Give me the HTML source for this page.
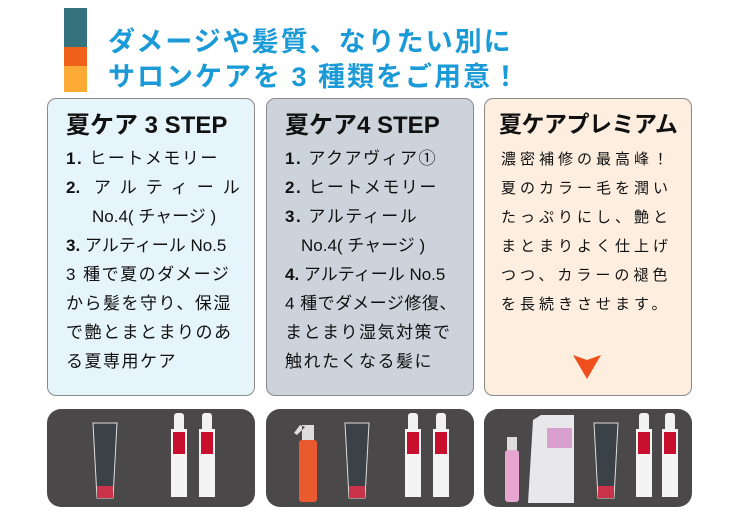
<!DOCTYPE html>
<html><head><meta charset="utf-8"><style>
body{margin:0;width:740px;height:532px;background:#fff;position:relative;overflow:hidden;font-family:"Liberation Sans","Noto Sans CJK JP",sans-serif;}
.a{position:absolute}
.h{color:#1a9ad6;font-weight:bold;font-size:27px;letter-spacing:2px;white-space:nowrap;left:108px}
.p{position:absolute;top:98px;height:298px;border:1.5px solid #8a8a8a;border-radius:9px;box-sizing:border-box}
.t{position:absolute;left:18px;top:6px;font-size:24px;font-weight:bold;color:#111;white-space:nowrap}
.l{position:absolute;left:18px;font-size:17px;letter-spacing:1.5px;color:#111;white-space:nowrap;line-height:20px}
.q{position:absolute;left:16px;font-size:15px;letter-spacing:4px;color:#111;white-space:nowrap;line-height:20px}
.b{position:absolute;top:409px;height:98px;background:#4a4849;border-radius:14px}
</style></head><body>
<div class="a" style="left:64px;top:8px;width:23px;height:39px;background:#34737e"></div>
<div class="a" style="left:64px;top:47px;width:23px;height:19px;background:#ef6018"></div>
<div class="a" style="left:64px;top:66px;width:23px;height:26px;background:#fbab35"></div>
<div class="a h" style="top:20px">ダメージや髪質、なりたい別に</div>
<div class="a h" style="top:55px">サロンケアを 3 種類をご用意！</div>

<div class="p" style="left:47px;width:208px;background:#e6f4fc">
<div class="t">夏ケア 3 STEP</div>
<div class="l" style="top:50px"><b>1.</b> ヒートメモリー</div>
<div class="l" style="top:79px;letter-spacing:9px"><b style="letter-spacing:0">2.</b> アルティール</div>
<div class="l" style="top:108px;left:44px;letter-spacing:0">No.4( チャージ )</div>
<div class="l" style="top:137px;letter-spacing:0"><b>3.</b> アルティール No.5</div>
<div class="l" style="top:166px">3 種で夏のダメージ</div>
<div class="l" style="top:195px">から髪を守り、保湿</div>
<div class="l" style="top:224px">で艶とまとまりのあ</div>
<div class="l" style="top:253px">る夏専用ケア</div>
</div>

<div class="p" style="left:266px;width:208px;background:#ccd3da">
<div class="t">夏ケア4 STEP</div>
<div class="l" style="top:50px"><b>1.</b> アクアヴィア①</div>
<div class="l" style="top:79px"><b>2.</b> ヒートメモリー</div>
<div class="l" style="top:108px"><b>3.</b> アルティール</div>
<div class="l" style="top:137px;left:34px;letter-spacing:0">No.4( チャージ )</div>
<div class="l" style="top:166px;letter-spacing:0"><b>4.</b> アルティール No.5</div>
<div class="l" style="top:195px;letter-spacing:0.5px">4 種でダメージ修復、</div>
<div class="l" style="top:224px">まとまり湿気対策で</div>
<div class="l" style="top:253px">触れたくなる髪に</div>
</div>

<div class="p" style="left:484px;width:208px;background:#fdeee0">
<div class="t" style="left:14px;font-size:23px;letter-spacing:-0.5px">夏ケアプレミアム</div>
<div class="q" style="top:51px">濃密補修の最高峰！</div>
<div class="q" style="top:80px">夏のカラー毛を潤い</div>
<div class="q" style="top:109px">たっぷりにし、艶と</div>
<div class="q" style="top:138px">まとまりよく仕上げ</div>
<div class="q" style="top:167px">つつ、カラーの褪色</div>
<div class="q" style="top:196px">を長続きさせます。</div>
<svg class="a" style="left:87px;top:255px" width="30" height="26"><polygon points="1,1 15,6 29,1 15,25" fill="#ee4f1c"/></svg>
</div>

<div class="b" style="left:47px;width:208px"></div>
<div class="b" style="left:266px;width:208px"></div>
<div class="b" style="left:484px;width:208px"></div>
<svg class="a" style="left:0;top:0" width="740" height="532">
<defs>
<g id="tube"><path d="M0,0 h24 l-4,75 h-16 z" fill="#3a4247" stroke="#ddd" stroke-width="1"/><rect x="4" y="63" width="16" height="12" fill="#c8334a"/></g>
<g id="bot"><rect x="3" y="0" width="10" height="18" rx="3" fill="#f2f2f2"/><rect x="0" y="16" width="16" height="68" fill="#f4f4f4"/><rect x="2" y="19" width="12" height="22" fill="#c8102e"/></g>
</defs>
<use href="#tube" x="93" y="423"/>
<use href="#bot" x="171" y="413"/><use href="#bot" x="199" y="413"/>
<rect x="299" y="440" width="18" height="62" rx="3" fill="#ea5a2e"/><path d="M302,425 h12 v15 h-12z M300,425 l-6,8 l3,2 l8,-8z" fill="#ddd"/>
<use href="#tube" x="345" y="423"/>
<use href="#bot" x="405" y="413"/><use href="#bot" x="433" y="413"/>
<rect x="505" y="450" width="14" height="52" rx="3" fill="#e7a6cf"/><path d="M507,437 h10 v13 h-10z" fill="#ddd"/>
<path d="M533,420 l8,-5 h33 v88 h-46 z" fill="#e8e8ea"/><rect x="547" y="428" width="25" height="20" fill="#d9a0cf"/>
<use href="#tube" x="594" y="423"/>
<use href="#bot" x="636" y="413"/><use href="#bot" x="662" y="413"/>
</svg>
</body></html>
